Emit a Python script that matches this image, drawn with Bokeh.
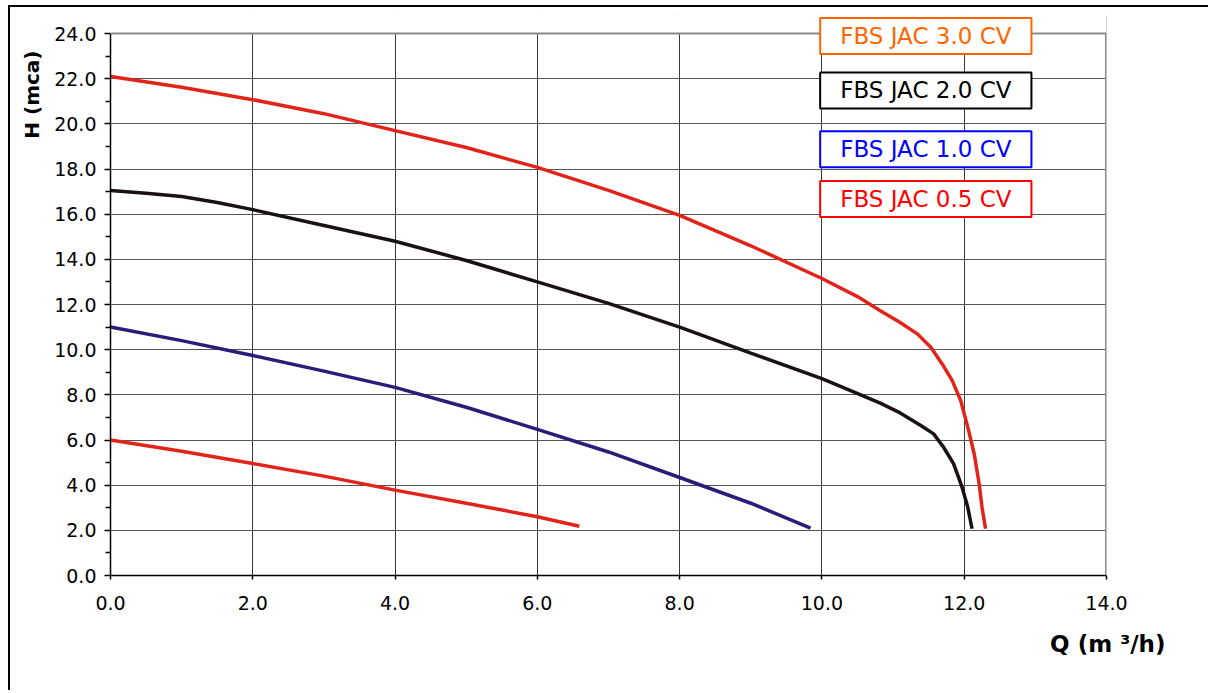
from bokeh.plotting import figure
from bokeh.models import Range1d, Label, PrintfTickFormatter, FixedTicker, Title, Span, BoxAnnotation
from bokeh.embed import file_html
from bokeh.resources import INLINE

# ---- data ----
q_30 = [0.0, 1.0, 2.0, 3.0, 4.0, 5.0, 6.0, 7.0, 8.0, 9.0, 10.0, 10.5, 10.82, 11.1, 11.34, 11.53, 11.69, 11.83, 11.95, 12.05, 12.14, 12.21, 12.25, 12.30]
h_30 = [22.1, 21.62, 21.07, 20.45, 19.7, 18.95, 18.07, 17.05, 15.95, 14.6, 13.15, 12.35, 11.72, 11.2, 10.7, 10.11, 9.37, 8.64, 7.75, 6.57, 5.39, 4.06, 3.02, 2.07]

q_20 = [0.0, 0.5, 1.0, 1.5, 2.0, 3.0, 4.0, 5.0, 6.0, 7.0, 8.0, 9.0, 10.0, 10.47, 10.82, 11.1, 11.39, 11.57, 11.71, 11.85, 11.97, 12.05, 12.11]
h_20 = [17.05, 16.93, 16.78, 16.52, 16.2, 15.5, 14.8, 13.95, 13.0, 12.05, 11.0, 9.85, 8.72, 8.1, 7.63, 7.2, 6.64, 6.27, 5.68, 4.95, 3.91, 3.02, 2.07]

q_10 = [0.0, 1.0, 2.0, 3.0, 4.0, 5.0, 6.0, 7.0, 8.0, 9.0, 9.84]
h_10 = [11.0, 10.4, 9.74, 9.05, 8.33, 7.45, 6.47, 5.47, 4.34, 3.2, 2.1]

q_05 = [0.0, 1.0, 2.0, 3.0, 4.0, 5.0, 6.0, 6.59]
h_05 = [6.0, 5.5, 4.96, 4.4, 3.78, 3.2, 2.6, 2.18]

legend_labels = ["FBS JAC 3.0 CV", "FBS JAC 2.0 CV", "FBS JAC 1.0 CV", "FBS JAC 0.5 CV"]
legend_colors = ["#FF6600", "#000000", "#0000FF", "#FF0000"]
legend_y = [23.89, 21.48, 18.87, 16.67]
legend_x = 11.46

x_min, x_max = 0, 14
y_min, y_max = 0, 24
x_ticks = [0, 2, 4, 6, 8, 10, 12, 14]
y_ticks = [0, 2, 4, 6, 8, 10, 12, 14, 16, 18, 20, 22, 24]
y_minor = [1, 3, 5, 7, 9, 11, 13, 15, 17, 19, 21, 23]

TICK_FONT = "DejaVu Sans"

# frame is extended 18px above the 24.0 line so that the first legend box is not clipped
FRAME_H = 542
EXTRA = 18
y_view_end = y_max * (FRAME_H + EXTRA) / FRAME_H

p = figure(width=1200, height=685, output_backend="svg", toolbar_location=None,
           x_range=Range1d(x_min, x_max), y_range=Range1d(y_min, y_view_end),
           min_border_left=100, min_border_right=104, min_border_top=26 - EXTRA, min_border_bottom=117)

p.styles = {"margin-left": "8px", "margin-top": "5px",
            "border-left": "2px solid black", "border-top": "2px solid black"}

p.outline_line_color = None
p.background_fill_color = "white"
p.border_fill_color = "white"

# grid
p.xgrid.ticker = FixedTicker(ticks=x_ticks)
p.ygrid.ticker = FixedTicker(ticks=y_ticks)
p.xgrid.grid_line_color = "#3a3a3a"
p.ygrid.grid_line_color = "#555555"
p.xgrid.grid_line_width = 1
p.ygrid.grid_line_width = 1

# axes
p.xaxis.ticker = FixedTicker(ticks=x_ticks)
p.yaxis.ticker = FixedTicker(ticks=y_ticks, minor_ticks=y_minor)
p.yaxis.bounds = (y_min, y_max)
for ax in (p.xaxis, p.yaxis):
    ax.formatter = PrintfTickFormatter(format="%.1f")
    ax.axis_line_color = "black"
    ax.axis_line_width = 1.5
    ax.major_tick_line_color = "black"
    ax.major_tick_line_width = 1.5
    ax.major_tick_in = 0
    ax.minor_tick_in = 0
    ax.major_label_text_font = TICK_FONT
    ax.major_label_text_font_size = "19px"
    ax.major_label_text_color = "black"
p.xaxis.major_tick_out = 4
p.xaxis.minor_tick_line_color = None
p.xaxis.major_label_standoff = 16
p.yaxis.major_tick_out = 6
p.yaxis.minor_tick_out = 5
p.yaxis.minor_tick_line_color = "black"
p.yaxis.minor_tick_line_width = 1.5
p.yaxis.major_label_standoff = 8

# curves
p.line(q_30, h_30, line_color="#E2231A", line_width=3.5)
p.line(q_20, h_20, line_color="#1A1212", line_width=3.5)
p.line(q_10, h_10, line_color="#2A1C7A", line_width=3.5)
p.line(q_05, h_05, line_color="#E2231A", line_width=3.5)

# plot-area border (right and top), then blank out the strip above 24.0
p.add_layout(Span(location=x_max, dimension="height", line_color="#8a8a8a", line_width=3))
p.add_layout(BoxAnnotation(bottom=y_max, top=y_view_end + 1, fill_color="white", fill_alpha=1.0,
                           line_color=None))
p.add_layout(Span(location=y_max, dimension="width", line_color="#8a8a8a", line_width=2))

# legend boxes
for txt, col, yy in zip(legend_labels, legend_colors, legend_y):
    p.add_layout(Label(x=legend_x, y=yy, text=txt, text_color=col,
                       text_font=TICK_FONT, text_font_size="23px",
                       text_align="center", text_baseline="middle",
                       background_fill_color="white", border_line_color=col,
                       border_line_width=2,
                       padding=dict(left=20, right=20, top=5, bottom=5)))

# axis titles
p.add_layout(Title(text="Q (m ³/h)", text_font=TICK_FONT, text_font_style="bold",
                   text_font_size="23px", align="right", offset=-59, standoff=33,
                   text_color="black"), "below")
p.add_layout(Title(text="H (mca)", text_font=TICK_FONT, text_font_style="bold",
                   text_font_size="20px", align="right", offset=35, standoff=15,
                   text_color="black"), "left")

open("out.html", "w").write(file_html(p, INLINE))
